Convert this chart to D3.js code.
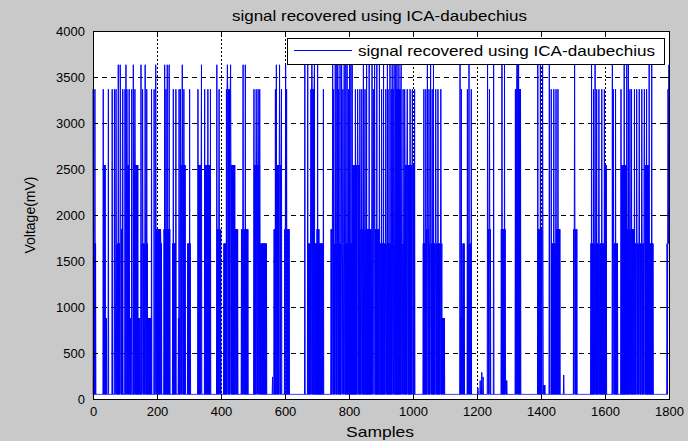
<!DOCTYPE html>
<html>
<head>
<meta charset="utf-8">
<script src="https://cdn.jsdelivr.net/npm/d3@7"></script>
<style>
  html, body { margin: 0; padding: 0; background: #c9c9c9; }
  svg { display: block; }
  text { font-family: Arial, "Liberation Sans", sans-serif; fill: #000; }
</style>
</head>
<body>
<svg id="chart" width="688" height="441"></svg>
<script>
// ---- data ----
const titleText = "signal recovered using ICA-daubechius";
const legendText = "signal recovered using ICA-daubechius";
const xLabel = "Samples";
const yLabel = "Voltage(mV)";
const xTicks = [0, 200, 400, 600, 800, 1000, 1200, 1400, 1600, 1800];
const yTicks = [0, 500, 1000, 1500, 2000, 2500, 3000, 3500, 4000];
const nSamples = 1800;
const baseline = 50;
// dense stretches: [firstSample, lastSample, level] (signal toggles between level and baseline)
const bursts = [
  [0,9,1690],[32,39,2543],[40,43,880],[71,93,1690],[87,92,1845],[103,113,2543],[114,121,880],
  [126,140,2543],[142,147,880],[150,170,1690],[173,183,880],[197,211,1845],[212,215,1690],
  [222,241,1845],[249,260,1690],[267,273,880],[274,288,2543],[296,305,1690],
  [328,339,2543],[349,368,2543],[389,399,1845],[409,453,1690],[417,430,3367],[431,443,2543],
  [446,453,1845],[464,484,1845],[505,521,2543],[522,542,1690],[566,573,1845],[576,589,2543],
  [599,613,1845],
  [674,718,1690],[681,692,3367],[700,707,1845],[744,770,1690],[744,749,1845],[770,812,1690],
  [812,834,2543],[835,853,1845],[853,895,1845],[896,915,1690],
  [914,1003,1690],[948,962,3367],[975,1003,2543],[1032,1092,1690],[1042,1050,1845],
  [1092,1099,880],[1147,1155,880],[1156,1160,1690],[1170,1182,1690],
  [1234,1242,1845],[1276,1288,1845],[1289,1294,200],[1320,1336,3367],[1390,1408,1845],
  [1408,1413,150],[1432,1460,1690],[1447,1460,1845],[1502,1512,1845],
  [1556,1597,1690],[1598,1605,2543],[1623,1640,1690],[1652,1668,2543],[1669,1689,1845],
  [1690,1751,1690],[1722,1738,2543],[1794,1799,1690]
];
// isolated samples: [sample, value]
const peaks = [
  [0,3367],[6,3367],[32,3367],[48,3367],[60,3367],[67,3367],[72,3367],[79,3633],[85,3633],
  [86,3367],[93,3367],[100,3367],[103,3633],[106,3367],[113,3367],[121,3367],[126,3633],
  [131,3367],[150,3633],[155,3367],[163,3633],[168,3367],[183,3367],[191,3367],[196,3633],
  [224,3633],[228,3367],[232,3633],[238,3633],[251,3367],[259,3367],[269,3367],[273,3367],
  [279,3633],[284,3367],
  [302,3367],[328,3367],[339,3633],[349,3367],[359,3367],[367,3367],[387,3633],[394,3367],
  [420,3633],[430,3633],[469,3633],[476,3633],[503,3367],[510,3367],[516,3367],[521,3367],
  [561,240],[570,3367],[573,3633],[583,3633],[589,3367],[602,3633],[605,3367],
  [662,3633],[671,3633],[684,3633],[692,3633],[702,3633],[720,3367],[749,3633],[752,3367],
  [757,3633],[762,3633],[765,3633],[768,3367],[772,3633],[777,3633],[781,3367],[785,3633],
  [790,3633],[794,3633],[798,3367],[802,3633],[806,3633],[810,3633],
  [820,3367],[827,3367],[834,3367],[840,3367],[845,3633],[850,3367],[855,3633],[863,3633],
  [872,3633],[876,3367],[880,3633],[887,3633],[895,3633],[902,3367],[908,3633],
  [915,3367],[920,3633],[922,3367],[928,3633],[932,3367],[935,3633],[938,3367],[941,3633],
  [946,3633],[950,3633],[956,3633],[963,3633],[969,3367],[974,3367],[982,3367],[991,3367],
  [998,3367],[1005,3367],[1034,3367],[1040,3367],[1045,3633],[1050,3367],[1055,3633],
  [1060,3367],[1064,3633],[1071,3367],[1078,3367],[1087,3367],[1147,3633],[1151,3367],
  [1170,3367],[1175,3633],[1182,3367],[1203,120],[1210,200],[1215,290],[1219,240],
  [1233,3633],[1239,3367],[1252,3633],[1278,3633],[1286,3633],[1325,3633],[1328,3633],
  [1330,3633],[1390,3633],[1398,3633],[1405,3633],[1426,3633],[1432,3367],[1440,3367],
  [1447,3367],[1453,3367],[1471,260],[1505,3633],
  [1558,3633],[1564,3367],[1569,3633],[1574,3367],[1581,3367],[1590,3367],[1598,3367],
  [1623,3633],[1626,3367],[1633,3367],[1650,3367],[1660,3633],[1668,3633],[1673,3633],
  [1678,3367],[1683,3367],[1692,3367],[1699,3367],[1707,3367],[1715,3367],[1723,3367],
  [1730,3367],[1738,3633],[1746,3633],[1797,3367],[1799,3633]
];

// ---- build the sample series from the read values ----
const signal = new Array(nSamples).fill(baseline);
bursts.forEach(([a, b, v]) => {
  for (let s = a; s <= b && s < nSamples; s++) signal[s] = ((s - a) % 2 === 0) ? v : baseline;
});
peaks.forEach(([s, v]) => { if (s < nSamples) signal[s] = v; });

// ---- layout ----
const svg = d3.select("#chart");
const L = 93, R = 669, T = 31, B = 399;
const x = d3.scaleLinear().domain([0, 1800]).range([L, R]);
const y = d3.scaleLinear().domain([0, 4000]).range([B, T]);

svg.append("rect").attr("x", L).attr("y", T).attr("width", R - L).attr("height", B - T).attr("fill", "#fff");

// grid (behind data)
const grid = svg.append("g").attr("shape-rendering", "crispEdges");
grid.selectAll("line.h").data(yTicks.filter(d => d > 0 && d < 4000)).enter().append("line")
  .attr("x1", L).attr("x2", R).attr("y1", d => Math.round(y(d)) + 0.5).attr("y2", d => Math.round(y(d)) + 0.5)
  .attr("stroke", "#000").attr("stroke-width", 1).attr("stroke-dasharray", "5,4");
grid.selectAll("line.v").data(xTicks.filter(d => d > 0 && d < 1800)).enter().append("line")
  .attr("y1", T).attr("y2", B).attr("x1", d => Math.round(x(d)) + 0.5).attr("x2", d => Math.round(x(d)) + 0.5)
  .attr("stroke", "#000").attr("stroke-width", 1).attr("stroke-dasharray", "2,2");

// data
const lineGen = d3.line().x((d, i) => x(i)).y(d => y(d));
svg.append("path").datum(signal).attr("d", lineGen)
  .attr("fill", "none").attr("stroke", "#0000ff").attr("stroke-width", 1);

// axes (ticks inward, on all sides)
const axG = svg.append("g").attr("shape-rendering", "crispEdges");
const axBottom = d3.axisBottom(x).tickValues(xTicks).tickSize(-5).tickPadding(8).tickFormat(d3.format("d"));
const axLeft = d3.axisLeft(y).tickValues(yTicks).tickSize(-5).tickPadding(8).tickFormat(d3.format("d"));
const axTop = d3.axisTop(x).tickValues(xTicks).tickSize(-5).tickFormat("");
const axRight = d3.axisRight(y).tickValues(yTicks).tickSize(-5).tickFormat("");
[[axBottom, `translate(0,${B})`], [axLeft, `translate(${L},0)`], [axTop, `translate(0,${T})`], [axRight, `translate(${R},0)`]]
  .forEach(([a, t]) => {
    const g = axG.append("g").attr("transform", t).call(a);
    g.select(".domain").attr("stroke", "#000");
    g.selectAll(".tick line").attr("stroke", "#000");
    g.selectAll(".tick text").attr("font-size", 13).attr("font-family", "Arial, 'Liberation Sans', sans-serif").attr("fill", "#000");
  });

// legend
const lg = svg.append("g");
lg.append("rect").attr("x", 287.5).attr("y", 38.5).attr("width", 377).attr("height", 26)
  .attr("fill", "#fff").attr("stroke", "#000").attr("stroke-width", 1);
lg.append("line").attr("x1", 294).attr("x2", 352).attr("y1", 50.5).attr("y2", 50.5)
  .attr("stroke", "#0000ff").attr("stroke-width", 1);
lg.append("text").attr("x", 358).attr("y", 56).attr("font-size", 15)
  .attr("textLength", 297).attr("lengthAdjust", "spacingAndGlyphs").text(legendText);

// title & labels
svg.append("text").attr("x", 232).attr("y", 21).attr("font-size", 15)
  .attr("textLength", 295).attr("lengthAdjust", "spacingAndGlyphs").text(titleText);
svg.append("text").attr("x", 346).attr("y", 437).attr("font-size", 15)
  .attr("textLength", 68).attr("lengthAdjust", "spacingAndGlyphs").text(xLabel);
svg.append("text").attr("transform", "translate(35,215) rotate(-90)").attr("text-anchor", "middle").attr("font-size", 14).text(yLabel);
</script>
</body>
</html>
